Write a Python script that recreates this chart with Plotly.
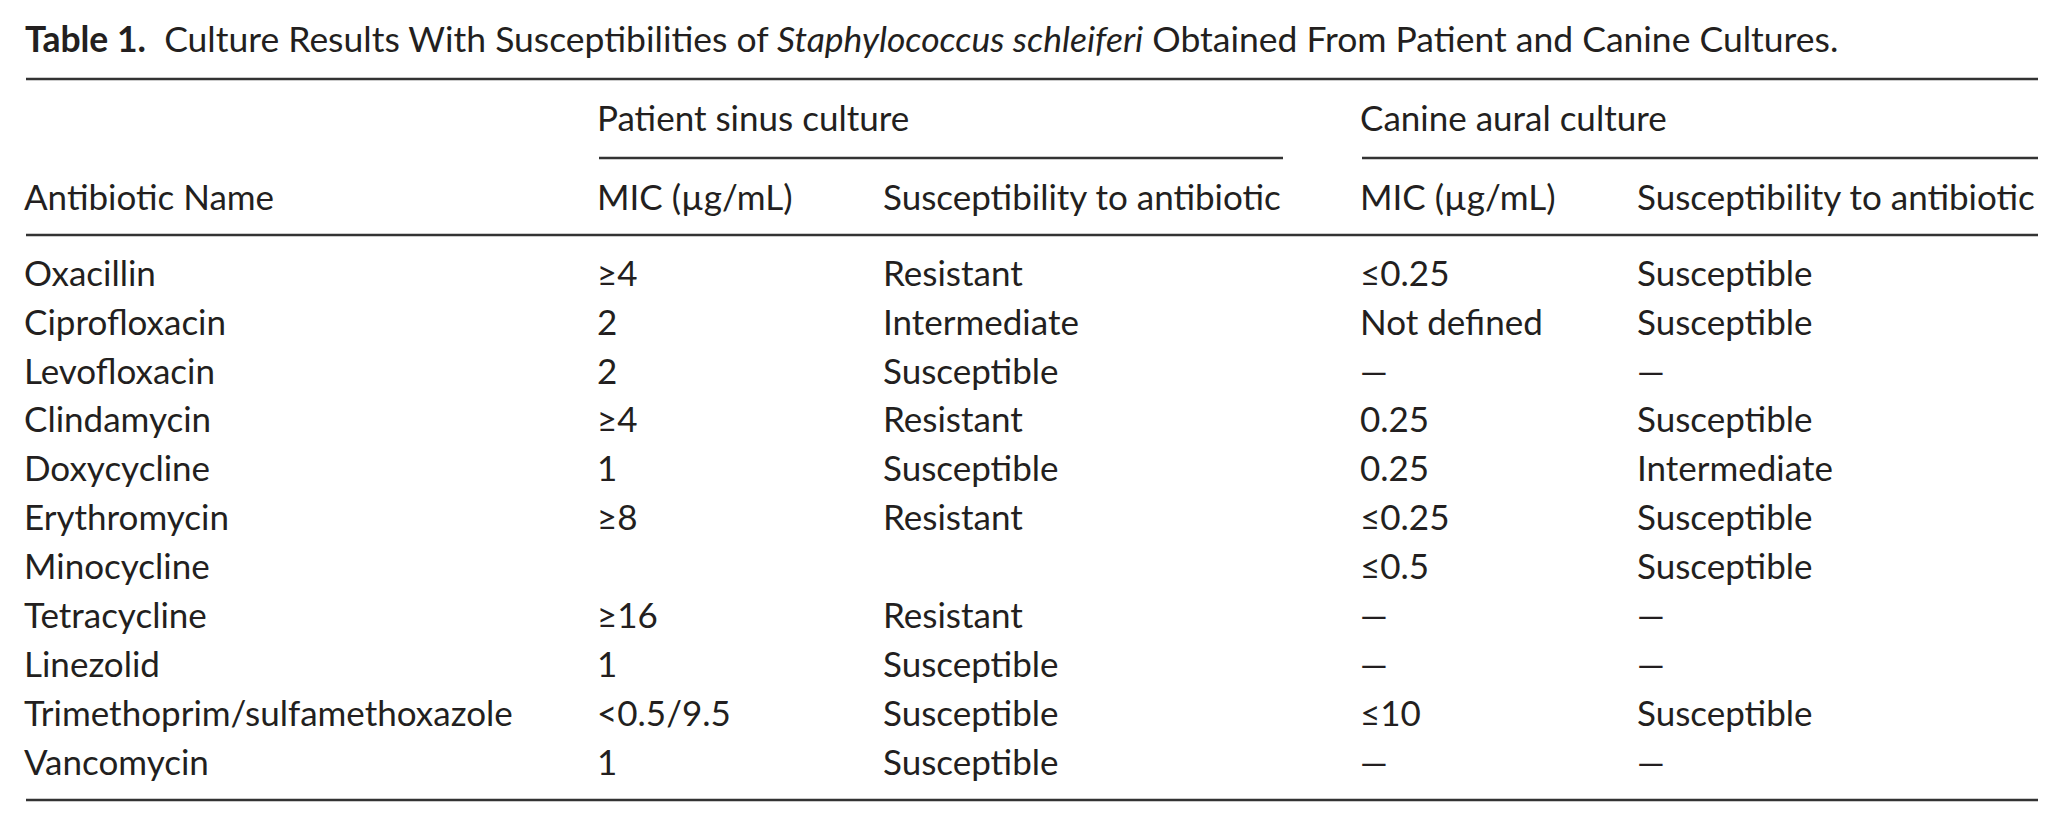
import plotly.graph_objects as go

# Table contents
antibiotics = [
    "Oxacillin", "Ciprofloxacin", "Levofloxacin", "Clindamycin", "Doxycycline",
    "Erythromycin", "Minocycline", "Tetracycline", "Linezolid",
    "Trimethoprim/sulfamethoxazole", "Vancomycin",
]
patient_mic = ["≥4", "2", "2", "≥4", "1", "≥8", "", "≥16", "1", "<0.5/9.5", "1"]
patient_susc = [
    "Resistant", "Intermediate", "Susceptible", "Resistant", "Susceptible",
    "Resistant", "", "Resistant", "Susceptible", "Susceptible", "Susceptible",
]
canine_mic = ["≤0.25", "Not defined", "—", "0.25", "0.25", "≤0.25", "≤0.5",
              "—", "—", "≤10", "—"]
canine_susc = [
    "Susceptible", "Susceptible", "—", "Susceptible", "Intermediate",
    "Susceptible", "Susceptible", "—", "—", "Susceptible", "—",
]

group_headers = ["Patient sinus culture", "Canine aural culture"]
col_headers = ["Antibiotic Name", "MIC (µg/mL)", "Susceptibility to antibiotic",
               "MIC (µg/mL)", "Susceptibility to antibiotic"]

title = ("<b>Table 1.</b>  Culture Results With Susceptibilities of "
         "<i>Staphylococcus schleiferi</i> Obtained From Patient and Canine Cultures.")

# Layout (pixel geometry of the page)
W, H = 2064, 826
PAGE_OFFSET = 8          # default body margin of the html page
col_x = [24, 597, 883, 1360, 1637]
row0_px, row_step = 277, 48.9

def row_of(px):
    # convert a pixel height into row units of the y axis
    return (px - row0_px) / row_step

FONT = "Lato"
FSIZE = 35
INK = "#231f20"
RULE = "#333333"

fig = go.Figure()

rows = list(range(len(antibiotics)))
columns = [antibiotics, patient_mic, patient_susc, canine_mic, canine_susc]
for x, values in zip(col_x, columns):
    fig.add_trace(go.Scatter(
        x=[x] * len(values), y=rows, text=values, mode="text",
        textposition="middle right", hoverinfo="skip",
        textfont=dict(family=FONT, size=FSIZE, color=INK),
    ))

# column headers
fig.add_trace(go.Scatter(
    x=col_x, y=[row_of(201)] * len(col_headers), text=col_headers, mode="text",
    textposition="middle right", hoverinfo="skip",
    textfont=dict(family=FONT, size=FSIZE, color=INK),
))
# group headers
fig.add_trace(go.Scatter(
    x=[col_x[1], col_x[3]], y=[row_of(122)] * 2, text=group_headers, mode="text",
    textposition="middle right", hoverinfo="skip",
    textfont=dict(family=FONT, size=FSIZE, color=INK),
))

# title
fig.add_annotation(
    x=23, y=row_of(38), text=title, showarrow=False, xanchor="left",
    yanchor="middle", font=dict(family=FONT, size=35.5, color=INK),
)

# horizontal rules
def rule(x0, x1, px):
    fig.add_shape(type="line", x0=x0, x1=x1, y0=row_of(px), y1=row_of(px),
                  line=dict(color=RULE, width=2.5))

rule(26, 2038, 79)
rule(599, 1283, 158)
rule(1362, 2038, 158)
rule(26, 2038, 235)
rule(26, 2038, 800)

fig.update_layout(
    width=W, height=H, showlegend=False,
    margin=dict(l=0, r=0, t=0, b=0),
    plot_bgcolor="white", paper_bgcolor="white",
    xaxis=dict(range=[PAGE_OFFSET, W + PAGE_OFFSET], visible=False, fixedrange=True),
    yaxis=dict(range=[row_of(H + PAGE_OFFSET), row_of(PAGE_OFFSET)],
               visible=False, fixedrange=True),
)

fig.write_html("out.html")
